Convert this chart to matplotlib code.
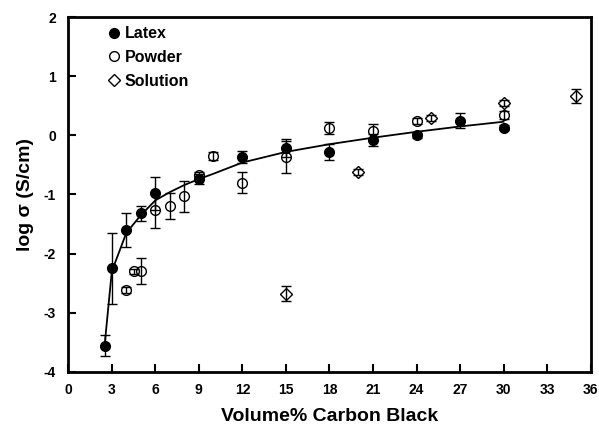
import matplotlib
matplotlib.use("Agg")
import matplotlib.pyplot as plt

plt.rcParams['font.family'] = ['Liberation Sans', 'DejaVu Sans']
plt.rcParams['font.weight'] = 'bold'
plt.rcParams['axes.unicode_minus'] = False

# Latex (filled circles)
latex_x = [2.5, 3, 4, 5, 6, 9, 12, 15, 18, 21, 24, 27, 30]
latex_y = [-3.56, -2.25, -1.60, -1.32, -0.98, -0.74, -0.36, -0.22, -0.28, -0.08, 0.0, 0.25, 0.13]
latex_err = [0.18, 0.60, 0.29, 0.13, 0.28, 0.08, 0.10, 0.15, 0.14, 0.10, 0.04, 0.13, 0.04]

# Powder (open circles)
powder_x = [4, 4.5, 5, 6, 7, 8, 9, 10, 12, 15, 18, 21, 24, 30]
powder_y = [-2.61, -2.30, -2.30, -1.27, -1.20, -1.03, -0.67, -0.35, -0.80, -0.36, 0.12, 0.07, 0.25, 0.34]
powder_err = [0.05, 0.04, 0.22, 0.30, 0.22, 0.26, 0.05, 0.07, 0.18, 0.27, 0.10, 0.13, 0.05, 0.07]

# Solution (open diamonds)
sol_x = [15, 20, 25, 30, 35]
sol_y = [-2.68, -0.62, 0.30, 0.55, 0.67]
sol_err = [0.13, 0.05, 0.05, 0.05, 0.12]

# fitted curve
fit_x = [2.5, 3, 4, 5, 6, 7, 8, 9, 10, 12, 15, 18, 21, 24, 27, 30]
fit_y = [-3.56, -2.30, -1.65, -1.35, -1.10, -0.96, -0.84, -0.74, -0.65, -0.46, -0.28, -0.15, -0.04, 0.06, 0.15, 0.23]

fig = plt.figure(figsize=(5.99, 4.38), dpi=100)
ax = fig.add_axes([0.114, 0.151, 0.872, 0.810])

ax.plot(fit_x, fit_y, color='black', lw=1.3, zorder=2)

ek = dict(ecolor='black', elinewidth=1.0, capsize=3.5, capthick=1.0, ls='none')
ax.errorbar(powder_x, powder_y, yerr=powder_err, fmt='o', mfc='none', mec='black',
            mew=1.0, ms=7, label='Powder', zorder=3, **ek)
ax.errorbar(sol_x, sol_y, yerr=sol_err, fmt='D', mfc='none', mec='black',
            mew=1.0, ms=6, label='Solution', zorder=3, **ek)
ax.errorbar(latex_x, latex_y, yerr=latex_err, fmt='o', mfc='black', mec='black',
            ms=7, label='Latex', zorder=4, **ek)

ax.set_xlim(0, 36)
ax.set_ylim(-4, 2)
ax.set_xticks(range(0, 37, 3))
ax.set_yticks(range(-4, 3))

for s in ax.spines.values():
    s.set_linewidth(2)
ax.tick_params(direction='in', length=6, width=1.5, labelsize=10,
               top=False, right=False)
ax.tick_params(axis='x', pad=8)
ax.tick_params(axis='y', pad=9)

ax.set_xlabel('Volume% Carbon Black', fontsize=14, fontweight='bold', labelpad=8)
ax.set_ylabel('log σ (S/cm)', fontsize=14, fontweight='bold', labelpad=7)

h, l = ax.get_legend_handles_labels()
order = [l.index('Latex'), l.index('Powder'), l.index('Solution')]
leg = ax.legend([h[i][0] for i in order], [l[i] for i in order],
                loc='upper left', bbox_to_anchor=(0.05, 1.015), frameon=False,
                fontsize=11.5, handlelength=0.6, handletextpad=0.4,
                labelspacing=0.55)

fig.savefig('out.png', dpi=100)
